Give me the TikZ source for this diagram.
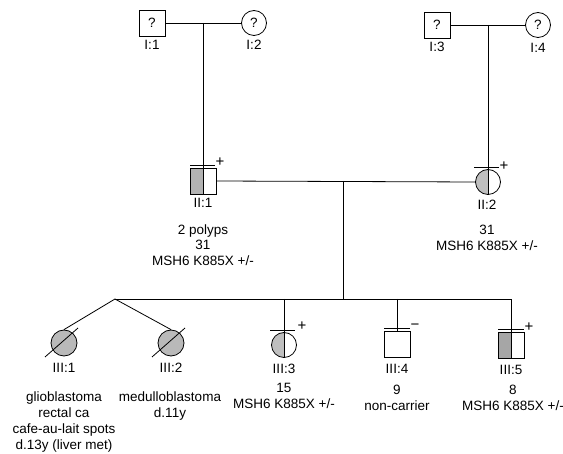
\documentclass[tikz,border=0pt]{standalone}
\usepackage{fontspec}
\setmainfont{Liberation Sans}
\begin{document}
\begin{tikzpicture}[x=1pt,y=-1pt,line width=0.8pt,
  every node/.style={font=\fontsize{13.5}{15.5}\selectfont,inner sep=0pt},
  male/.style={draw,rectangle,minimum size=26pt,fill=white},
  female/.style={draw,circle,minimum size=25pt,fill=white},
  lefthalf/.style={path picture={\fill[#1] (path picture bounding box.south west) rectangle (path picture bounding box.north);}},
  dead/.style={draw,circle,minimum size=26pt,fill=gray!55},
  sign/.style={font=\fontsize{15}{15}\selectfont},
  txt/.style={align=center},
  tag/.style={}
]
\useasboundingbox (0,0) rectangle (563,454);

% generation I
\node[male] (I1) at (152,23) {?};
\node[female] (I2) at (254,23) {?};
\node[male] (I3) at (437,25) {?};
\node[female] (I4) at (538,25) {?};
\node[tag] (lI1) at (152,45) {I:1};
\node[tag] (lI2) at (254,45) {I:2};
\node[tag] (lI3) at (437,47) {I:3};
\node[tag] (lI4) at (538,48) {I:4};
\coordinate (m1) at (203,23);
\coordinate (m2) at (488,25);
\draw (I1.east) -- (I2.west);
\draw (I3.east) -- (I4.west);

% generation II
\node[male,lefthalf=gray!60] (II1) at (203,181) {};
\node[female,lefthalf=gray!50] (II2) at (488,182) {};
\draw (II1.north) -- (II1.south);
\draw (II2.north) -- (II2.south);
\draw (m1) -- (II1.north);
\draw (m2) -- (II2.north);
\draw ([shift={(-13,-2)}]II1.north) -- ([shift={(12,-2)}]II1.north);
\draw ([shift={(-14,-2)}]II2.north) -- ([shift={(11,-2)}]II2.north);
\node[sign] (pII1) at (220,162) {+};
\node[sign] (pII2) at (504,166) {+};
\node[tag] (lII1) at (203,203) {II:1};
\node[tag] (lII2) at (487,205) {II:2};
\node[txt] (tII1) at (203,245) {2 polyps\\31\\MSH6 K885X +/-};
\node[txt] (tII2) at (487,238) {31\\MSH6 K885X +/-};
\coordinate (m3) at (343,181);
\draw (II1.east) -- (II2.west);

% generation III
\coordinate (tw) at (115,299);
\coordinate (s3) at (284,299);
\coordinate (s4) at (397,299);
\coordinate (s5) at (511,299);
\coordinate (sm) at (343,299);
\draw (m3) -- (sm);

\node[dead] (III1) at (64,343) {};
\node[dead] (III2) at (171,343) {};
\node[female,lefthalf=gray!50] (III3) at (284,345) {};
\node[male] (III4) at (397,344) {};
\node[male,lefthalf=gray!70] (III5) at (511,345) {};
\draw (III3.north) -- (III3.south);
\draw (III5.north) -- (III5.south);
\draw ([shift={(-19,14)}]III1.center) -- ([shift={(14,-15)}]III1.center);
\draw ([shift={(-19,14)}]III2.center) -- ([shift={(14,-15)}]III2.center);

\draw (tw) -- (s5) -- (III5.north);
\draw (tw) -- (III1.north);
\draw (tw) -- (III2.north);
\draw (s3) -- (III3.north);
\draw (s4) -- (III4.north);

\draw ([shift={(-14,-2)}]III3.north) -- ([shift={(11,-2)}]III3.north);
\draw ([shift={(-13,-2)}]III4.north) -- ([shift={(13,-2)}]III4.north);
\draw ([shift={(-13,-2)}]III5.north) -- ([shift={(13,-2)}]III5.north);
\node[sign] (pIII3) at (302,326) {+};
\node[sign] (pIII4) at (415,327) {−};
\node[sign] (pIII5) at (529,327) {+};

\node[tag] (lIII1) at (64,368) {III:1};
\node[tag] (lIII2) at (171,368) {III:2};
\node[tag] (lIII3) at (284,369) {III:3};
\node[tag] (lIII4) at (397,369) {III:4};
\node[tag] (lIII5) at (511,370) {III:5};

\node[txt,font=\fontsize{13.5}{16.3}\selectfont] (tIII1) at (64,422) {glioblastoma\\rectal ca\\cafe-au-lait spots\\d.13y (liver met)};
\node[txt,font=\fontsize{13.5}{16.3}\selectfont] (tIII2) at (170,406) {medulloblastoma\\d.11y};
\node[txt] (tIII3) at (284,396) {15\\MSH6 K885X +/-};
\node[txt] (tIII4) at (397,398) {9\\non-carrier};
\node[txt] (tIII5) at (513,398) {8\\MSH6 K885X +/-};
\end{tikzpicture}
\end{document}
